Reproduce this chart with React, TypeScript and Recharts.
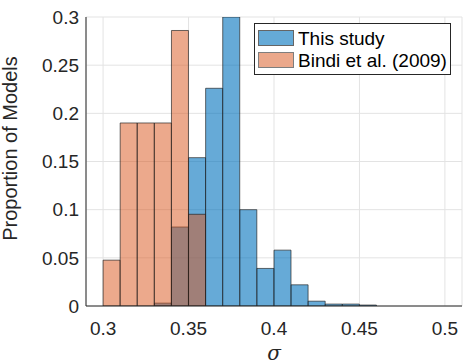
import React from 'react';
import { BarChart, Bar, XAxis, YAxis, CartesianGrid, Label } from 'recharts';

// bin centres (bin width 0.01)
const binCenters = [0.305, 0.315, 0.325, 0.335, 0.345, 0.355, 0.365, 0.375, 0.385, 0.395, 0.405, 0.415, 0.425, 0.435, 0.445, 0.455];
const thisStudy = [null, null, null, 0.003, 0.082, 0.154, 0.226, 0.3, 0.1, 0.039, 0.058, 0.022, 0.005, 0.002, 0.002, 0.001];
const bindi2009 = [0.0476, 0.19, 0.19, 0.19, 0.286, 0.0952, null, null, null, null, null, null, null, null, null, null];

const xTicks = [0.3, 0.35, 0.4, 0.45, 0.5];
const yTicks = [0, 0.05, 0.1, 0.15, 0.2, 0.25, 0.3];

const seriesNames = ['This study', 'Bindi et al. (2009)'];

const BLUE = '#0072BD';
const ORANGE = '#D95319';
const BLUE_ALPHA = 0.6;
const ORANGE_ALPHA = 0.5;
const FONT = '"Liberation Sans", Arial, Helvetica, sans-serif';

const data = binCenters.map((x, i) => ({ x, thisStudy: thisStudy[i], bindi: bindi2009[i] }));

const LegendBox = () => (
  <div
    style={{
      position: 'absolute',
      left: 254,
      top: 23,
      border: '1px solid #262626',
      background: '#fff',
      padding: '3px 3px 3px 3px',
      fontFamily: FONT,
      fontSize: 19,
      color: '#000',
      lineHeight: '21px',
    }}
  >
    {seriesNames.map((name, i) => (
      <div key={name} style={{ display: 'flex', alignItems: 'center', height: 22 }}>
        <span
          style={{
            display: 'inline-block',
            width: 36,
            height: 16,
            marginRight: 4,
            background: i === 0 ? BLUE : ORANGE,
            opacity: i === 0 ? BLUE_ALPHA : ORANGE_ALPHA,
            border: '1px solid #000',
            boxSizing: 'border-box',
          }}
        />
        <span>{name}</span>
      </div>
    ))}
  </div>
);

export default function App() {
  return (
    <div style={{ position: 'absolute', left: 0, top: 0, width: 467, height: 364, background: '#fff' }}>
      <BarChart
        width={467}
        height={364}
        data={data}
        margin={{ top: 17, right: 5, bottom: 0, left: 0 }}
        barCategoryGap={0}
        barGap={0}
      >
        <CartesianGrid xAxisId="main" stroke="#e3e3e3" strokeWidth={1} />
        <XAxis
          xAxisId="main"
          dataKey="x"
          type="number"
          domain={[0.29, 0.51]}
          ticks={xTicks}
          allowDataOverflow
          height={58}
          tickLine={false}
          axisLine={{ stroke: '#262626', strokeWidth: 1 }}
          tick={{ fill: '#262626', fontSize: 19, fontFamily: FONT, dy: 8 }}
        >
          <Label
            value="σ"
            position="insideBottom"
            offset={0}
            dy={-4}
            style={{ fontSize: 20, fontStyle: 'italic', fontFamily: '"DejaVu Serif", serif', fill: '#262626' }}
          />
        </XAxis>
        <XAxis xAxisId="over" dataKey="x" type="number" domain={[0.29, 0.51]} allowDataOverflow hide />
        <YAxis
          domain={[0, 0.3]}
          ticks={yTicks}
          width={86}
          tickLine={false}
          allowDataOverflow
          axisLine={{ stroke: '#262626', strokeWidth: 1 }}
          tick={{ fill: '#262626', fontSize: 19, fontFamily: FONT, dx: 1 }}
        >
          <Label
            value="Proportion of Models"
            angle={-90}
            position="insideLeft"
            offset={0}
            dx={10}
            dy={-13}
            style={{ textAnchor: 'middle', fontSize: 20, fontFamily: FONT, fill: '#262626' }}
          />
        </YAxis>
        <Bar
          xAxisId="main"
          dataKey="thisStudy"
          name={seriesNames[0]}
          fill={BLUE}
          fillOpacity={BLUE_ALPHA}
          stroke="#1a1a1a"
          strokeOpacity={0.8}
          strokeWidth={0.8}
          isAnimationActive={false}
        />
        <Bar
          xAxisId="over"
          dataKey="bindi"
          name={seriesNames[1]}
          fill={ORANGE}
          fillOpacity={ORANGE_ALPHA}
          stroke="#1a1a1a"
          strokeOpacity={0.8}
          strokeWidth={0.8}
          isAnimationActive={false}
        />
      </BarChart>
      <LegendBox />
    </div>
  );
}
